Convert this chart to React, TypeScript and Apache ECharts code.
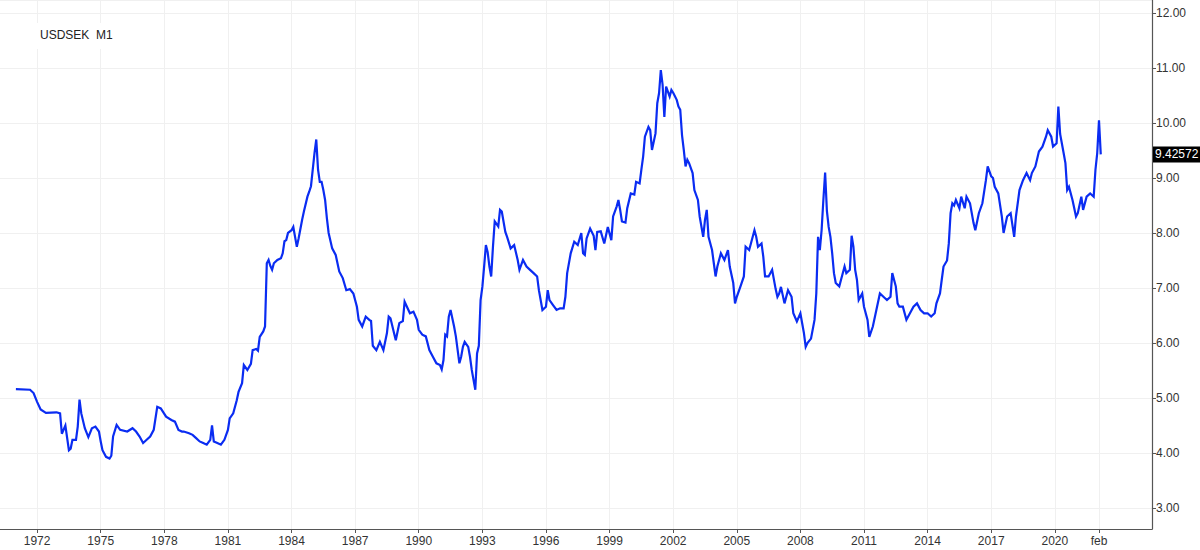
import React, { useEffect, useRef } from "react";
import * as echarts from "echarts";

const chartTitle = "USDSEK  M1";
const lastPrice = 9.42572;

// axis window (monthly categories)
const firstMonth = "1970-04";
const lastMonth = "2024-08";
const firstLabelYear = 1972;
const labelStepYears = 3;
const lastLabelYear = 2020;
const extraLabelMonth = "2022-02";
const extraLabelText = "feb";
const yMin = 2.618;
const yMax = 12.236;

const dates = [
  "1971-01","1971-09","1971-11","1972-01","1972-03","1972-06","1972-12","1973-02","1973-03","1973-05",
  "1973-07","1973-08","1973-09","1973-11","1973-12","1974-01","1974-02","1974-04","1974-06","1974-08",
  "1974-10","1974-12","1975-01","1975-02","1975-04","1975-06","1975-07","1975-08","1975-10","1975-12",
  "1976-04","1976-07","1976-09","1976-11","1977-01","1977-03","1977-05","1977-07","1977-09","1977-11",
  "1977-12","1978-02","1978-05","1978-07","1978-09","1978-11","1978-12","1979-03","1979-05","1979-07",
  "1979-09","1979-11","1980-01","1980-03","1980-04","1980-05","1980-07","1980-09","1980-11","1981-01",
  "1981-02","1981-04","1981-06","1981-07","1981-09","1981-10","1981-12","1982-02","1982-03","1982-05",
  "1982-06","1982-07","1982-09","1982-10","1982-11","1982-12","1983-01","1983-02","1983-03","1983-05",
  "1983-07","1983-08","1983-09","1983-10","1983-11","1984-01","1984-02","1984-03","1984-04","1984-05",
  "1984-07","1984-08","1984-10","1984-11","1984-12","1985-01","1985-02","1985-03","1985-04","1985-05",
  "1985-06","1985-07","1985-08","1985-09","1985-10","1985-12","1986-02","1986-04","1986-06","1986-08",
  "1986-10","1986-12","1987-02","1987-03","1987-05","1987-07","1987-09","1987-10","1987-11","1988-01",
  "1988-03","1988-05","1988-07","1988-08","1988-09","1988-11","1988-12","1989-02","1989-04","1989-05",
  "1989-08","1989-10","1989-12","1990-01","1990-03","1990-05","1990-07","1990-09","1990-11","1991-01",
  "1991-02","1991-03","1991-04","1991-05","1991-06","1991-07","1991-08","1991-09","1991-10","1991-12",
  "1992-01","1992-02","1992-03","1992-05","1992-06","1992-07","1992-08","1992-09","1992-10","1992-11",
  "1992-12","1993-01","1993-02","1993-03","1993-04","1993-05","1993-06","1993-07","1993-08","1993-10",
  "1993-11","1993-12","1994-02","1994-03","1994-05","1994-07","1994-09","1994-10","1994-12","1995-02",
  "1995-04","1995-06","1995-08","1995-09","1995-11","1996-01","1996-02","1996-03","1996-05","1996-07",
  "1996-09","1996-11","1996-12","1997-01","1997-03","1997-05","1997-07","1997-09","1997-10","1997-11",
  "1997-12","1998-02","1998-04","1998-05","1998-06","1998-08","1998-10","1998-12","1999-02","1999-03",
  "1999-05","1999-06","1999-07","1999-08","1999-10","1999-11","2000-01","2000-03","2000-04","2000-06",
  "2000-07","2000-08","2000-09","2000-11","2000-12","2001-01","2001-03","2001-04","2001-05","2001-06",
  "2001-07","2001-08","2001-09","2001-11","2001-12","2002-01","2002-03","2002-04","2002-05","2002-06",
  "2002-07","2002-08","2002-09","2002-10","2002-12","2003-01","2003-03","2003-04","2003-06","2003-07",
  "2003-08","2003-09","2003-11","2003-12","2004-01","2004-02","2004-04","2004-06","2004-08","2004-09",
  "2004-11","2004-12","2005-01","2005-03","2005-05","2005-06","2005-08","2005-09","2005-11","2005-12",
  "2006-01","2006-03","2006-04","2006-05","2006-07","2006-09","2006-11","2006-12","2007-01","2007-02",
  "2007-04","2007-06","2007-08","2007-09","2007-11","2008-01","2008-02","2008-03","2008-04","2008-05",
  "2008-07","2008-09","2008-10","2008-11","2008-12","2009-01","2009-02","2009-03","2009-04","2009-05",
  "2009-06","2009-07","2009-08","2009-09","2009-11","2009-12","2010-02","2010-03","2010-05","2010-06",
  "2010-07","2010-08","2010-09","2010-10","2010-12","2011-01","2011-03","2011-04","2011-06","2011-08",
  "2011-10","2011-12","2012-02","2012-04","2012-05","2012-07","2012-08","2012-09","2012-11","2013-01",
  "2013-03","2013-05","2013-07","2013-09","2013-11","2014-01","2014-03","2014-05","2014-06","2014-08",
  "2014-09","2014-10","2014-12","2015-01","2015-02","2015-03","2015-04","2015-05","2015-07","2015-08",
  "2015-10","2015-11","2016-01","2016-03","2016-04","2016-06","2016-08","2016-10","2016-11","2017-01",
  "2017-02","2017-03","2017-05","2017-07","2017-08","2017-10","2017-12","2018-02","2018-03","2018-05",
  "2018-07","2018-09","2018-11","2018-12","2019-02","2019-04","2019-06","2019-08","2019-09","2019-11",
  "2019-12","2020-02","2020-03","2020-04","2020-06","2020-07","2020-08","2020-09","2020-11","2021-01",
  "2021-02","2021-04","2021-05","2021-07","2021-09","2021-11","2021-12","2022-01","2022-02","2022-03",
];

const values = [
  5.16,5.15,5.09,4.93,4.79,4.73,4.74,4.72,4.35,4.50,
  4.05,4.08,4.24,4.24,4.48,4.97,4.72,4.45,4.29,4.45,
  4.48,4.39,4.21,4.05,3.93,3.90,3.95,4.30,4.51,4.42,
  4.39,4.45,4.39,4.30,4.18,4.24,4.30,4.42,4.84,4.81,
  4.76,4.66,4.60,4.57,4.42,4.39,4.39,4.36,4.33,4.27,
  4.21,4.18,4.15,4.24,4.50,4.21,4.18,4.15,4.24,4.42,
  4.63,4.72,4.96,5.11,5.27,5.60,5.51,5.62,5.87,5.89,
  5.86,6.11,6.21,6.30,7.45,7.51,7.40,7.33,7.45,7.51,
  7.54,7.63,7.85,7.87,8.00,8.05,8.11,7.93,7.75,7.90,
  8.24,8.39,8.66,8.75,8.85,9.15,9.45,9.70,9.15,8.93,
  8.93,8.78,8.60,8.27,8.00,7.72,7.60,7.30,7.18,6.96,
  6.98,6.90,6.66,6.42,6.30,6.48,6.42,6.40,5.95,5.87,
  6.02,5.87,6.18,6.48,6.45,6.18,6.05,6.36,6.40,6.75,
  6.54,6.57,6.42,6.24,6.15,6.12,5.87,5.75,5.63,5.60,
  5.52,5.69,6.15,6.12,6.48,6.60,6.45,6.30,6.12,5.63,
  5.75,5.93,6.02,5.93,5.75,5.51,5.33,5.15,5.81,5.95,
  6.78,7.02,7.39,7.78,7.65,7.39,7.21,7.75,8.21,8.12,
  8.42,8.39,8.02,7.93,7.72,7.78,7.51,7.33,7.51,7.39,
  7.33,7.27,7.21,6.96,6.60,6.66,6.96,6.78,6.69,6.60,
  6.63,6.63,6.84,7.27,7.63,7.84,7.78,8.00,7.63,7.60,
  7.90,8.08,7.95,7.69,8.02,8.03,7.81,8.11,7.87,8.30,
  8.48,8.60,8.42,8.21,8.19,8.45,8.72,8.70,8.93,8.90,
  9.15,9.39,9.75,9.93,9.87,9.51,9.81,10.36,10.54,10.96,
  10.70,10.11,10.66,10.48,10.60,10.55,10.42,10.30,10.24,9.78,
  9.51,9.21,9.33,9.27,9.09,8.78,8.60,8.30,7.93,8.24,
  8.42,7.93,7.69,7.45,7.21,7.39,7.63,7.51,7.69,7.39,
  7.09,6.72,6.84,7.02,7.21,7.75,7.69,7.81,8.05,7.93,
  7.75,7.81,7.57,7.21,7.21,7.33,6.98,6.84,6.90,7.02,
  6.72,6.96,6.84,6.54,6.39,6.54,6.36,6.18,5.93,6.00,
  6.08,6.42,6.90,7.93,7.69,8.05,8.60,9.10,8.40,8.11,
  7.93,7.63,7.27,7.09,7.03,7.15,7.39,7.27,7.33,7.95,
  7.75,7.33,7.15,6.78,6.90,6.66,6.42,6.11,6.30,6.60,
  6.90,6.84,6.78,6.84,7.27,7.03,6.72,6.66,6.66,6.42,
  6.54,6.66,6.72,6.60,6.54,6.54,6.48,6.54,6.72,6.90,
  7.15,7.39,7.50,7.81,8.36,8.54,8.50,8.60,8.45,8.66,
  8.45,8.66,8.54,8.18,8.05,8.36,8.54,8.96,9.21,9.03,
  9.00,8.84,8.72,8.30,8.00,8.30,8.36,7.93,8.30,8.78,
  8.96,9.09,8.96,9.09,9.21,9.48,9.57,9.75,9.87,9.75,
  9.57,9.63,10.30,9.80,9.45,9.27,8.78,8.84,8.60,8.30,
  8.36,8.66,8.42,8.66,8.72,8.66,9.15,9.45,10.05,9.43,
];

function buildMonths(from: string, to: string): string[] {
  const out: string[] = [];
  let [y, m] = from.split("-").map(Number);
  const [ty, tm] = to.split("-").map(Number);
  while (y < ty || (y === ty && m <= tm)) {
    out.push(`${y}-${String(m).padStart(2, "0")}`);
    m++;
    if (m > 12) { m = 1; y++; }
  }
  return out;
}

const months = buildMonths(firstMonth, lastMonth);

function isLabelMonth(v: string): boolean {
  if (v === extraLabelMonth) return true;
  const [y, m] = v.split("-").map(Number);
  return m === 1 && y >= firstLabelYear && y <= lastLabelYear && (y - firstLabelYear) % labelStepYears === 0;
}

const FONT = "'Liberation Sans', Arial, sans-serif";

export default function App() {
  const ref = useRef<HTMLDivElement>(null);
  useEffect(() => {
    document.body.style.margin = "0";
    if (!ref.current) return;
    const chart = echarts.init(ref.current, undefined, { renderer: "svg" });
    const intervalFn = (_i: number, v: string) => isLabelMonth(months[_i] ?? v);
    chart.setOption({
      animation: false,
      backgroundColor: "#ffffff",
      grid: { left: 0, right: 48, top: 0, bottom: 21, containLabel: false },
      xAxis: {
        type: "category",
        data: months,
        boundaryGap: false,
        axisLine: { show: true, lineStyle: { color: "#555", width: 1.2 } },
        axisTick: { show: true, interval: intervalFn, length: 4, lineStyle: { color: "#555" } },
        axisLabel: {
          interval: intervalFn,
          color: "#333",
          fontSize: 12,
          fontFamily: FONT,
          margin: 6,
          formatter: (v: string) => (v === extraLabelMonth ? extraLabelText : v.slice(0, 4)),
        },
        splitLine: { show: true, interval: intervalFn, lineStyle: { color: "#f0f0f0", width: 1 } },
      },
      yAxis: {
        type: "value",
        position: "right",
        min: yMin,
        max: yMax,
        splitNumber: 10,
        axisLine: { show: true, lineStyle: { color: "#555", width: 1.2 } },
        axisTick: { show: true, length: 4, lineStyle: { color: "#555" } },
        axisLabel: {
          showMinLabel: false,
          showMaxLabel: false,
          color: "#333",
          fontSize: 12,
          fontFamily: FONT,
          margin: 4,
          formatter: (v: number) => (Math.abs(v - Math.round(v)) < 1e-6 ? v.toFixed(2) : ""),
        },
        splitLine: { show: true, lineStyle: { color: "#f0f0f0", width: 1 } },
      },
      series: [
        {
          type: "line",
          data: dates.map((d, i) => [d, values[i]]),
          showSymbol: false,
          symbol: "none",
          lineStyle: { color: "#0a2cf2", width: 2.2, join: "miter" },
          z: 3,
        },
      ],
    });
    const py = chart.convertToPixel({ yAxisIndex: 0 }, lastPrice) as number;
    chart.setOption({
      graphic: [
        { type: "rect", shape: { x: 37, y: 23, width: 82, height: 26 }, style: { fill: "#ffffff" }, z: 10 },
        {
          type: "text",
          x: 40,
          y: 29,
          style: { text: chartTitle, fill: "#222", fontSize: 12, fontFamily: FONT },
          z: 11,
        },
        { type: "rect", shape: { x: 1153, y: py - 8, width: 47, height: 16 }, style: { fill: "#000" }, z: 10 },
        {
          type: "text",
          x: 1155,
          y: py - 7,
          style: { text: lastPrice.toFixed(5), fill: "#fff", fontSize: 12, fontFamily: FONT },
          z: 11,
        },
      ],
    });
    return () => chart.dispose();
  }, []);
  return <div ref={ref} style={{ width: 1200, height: 550 }} />;
}
